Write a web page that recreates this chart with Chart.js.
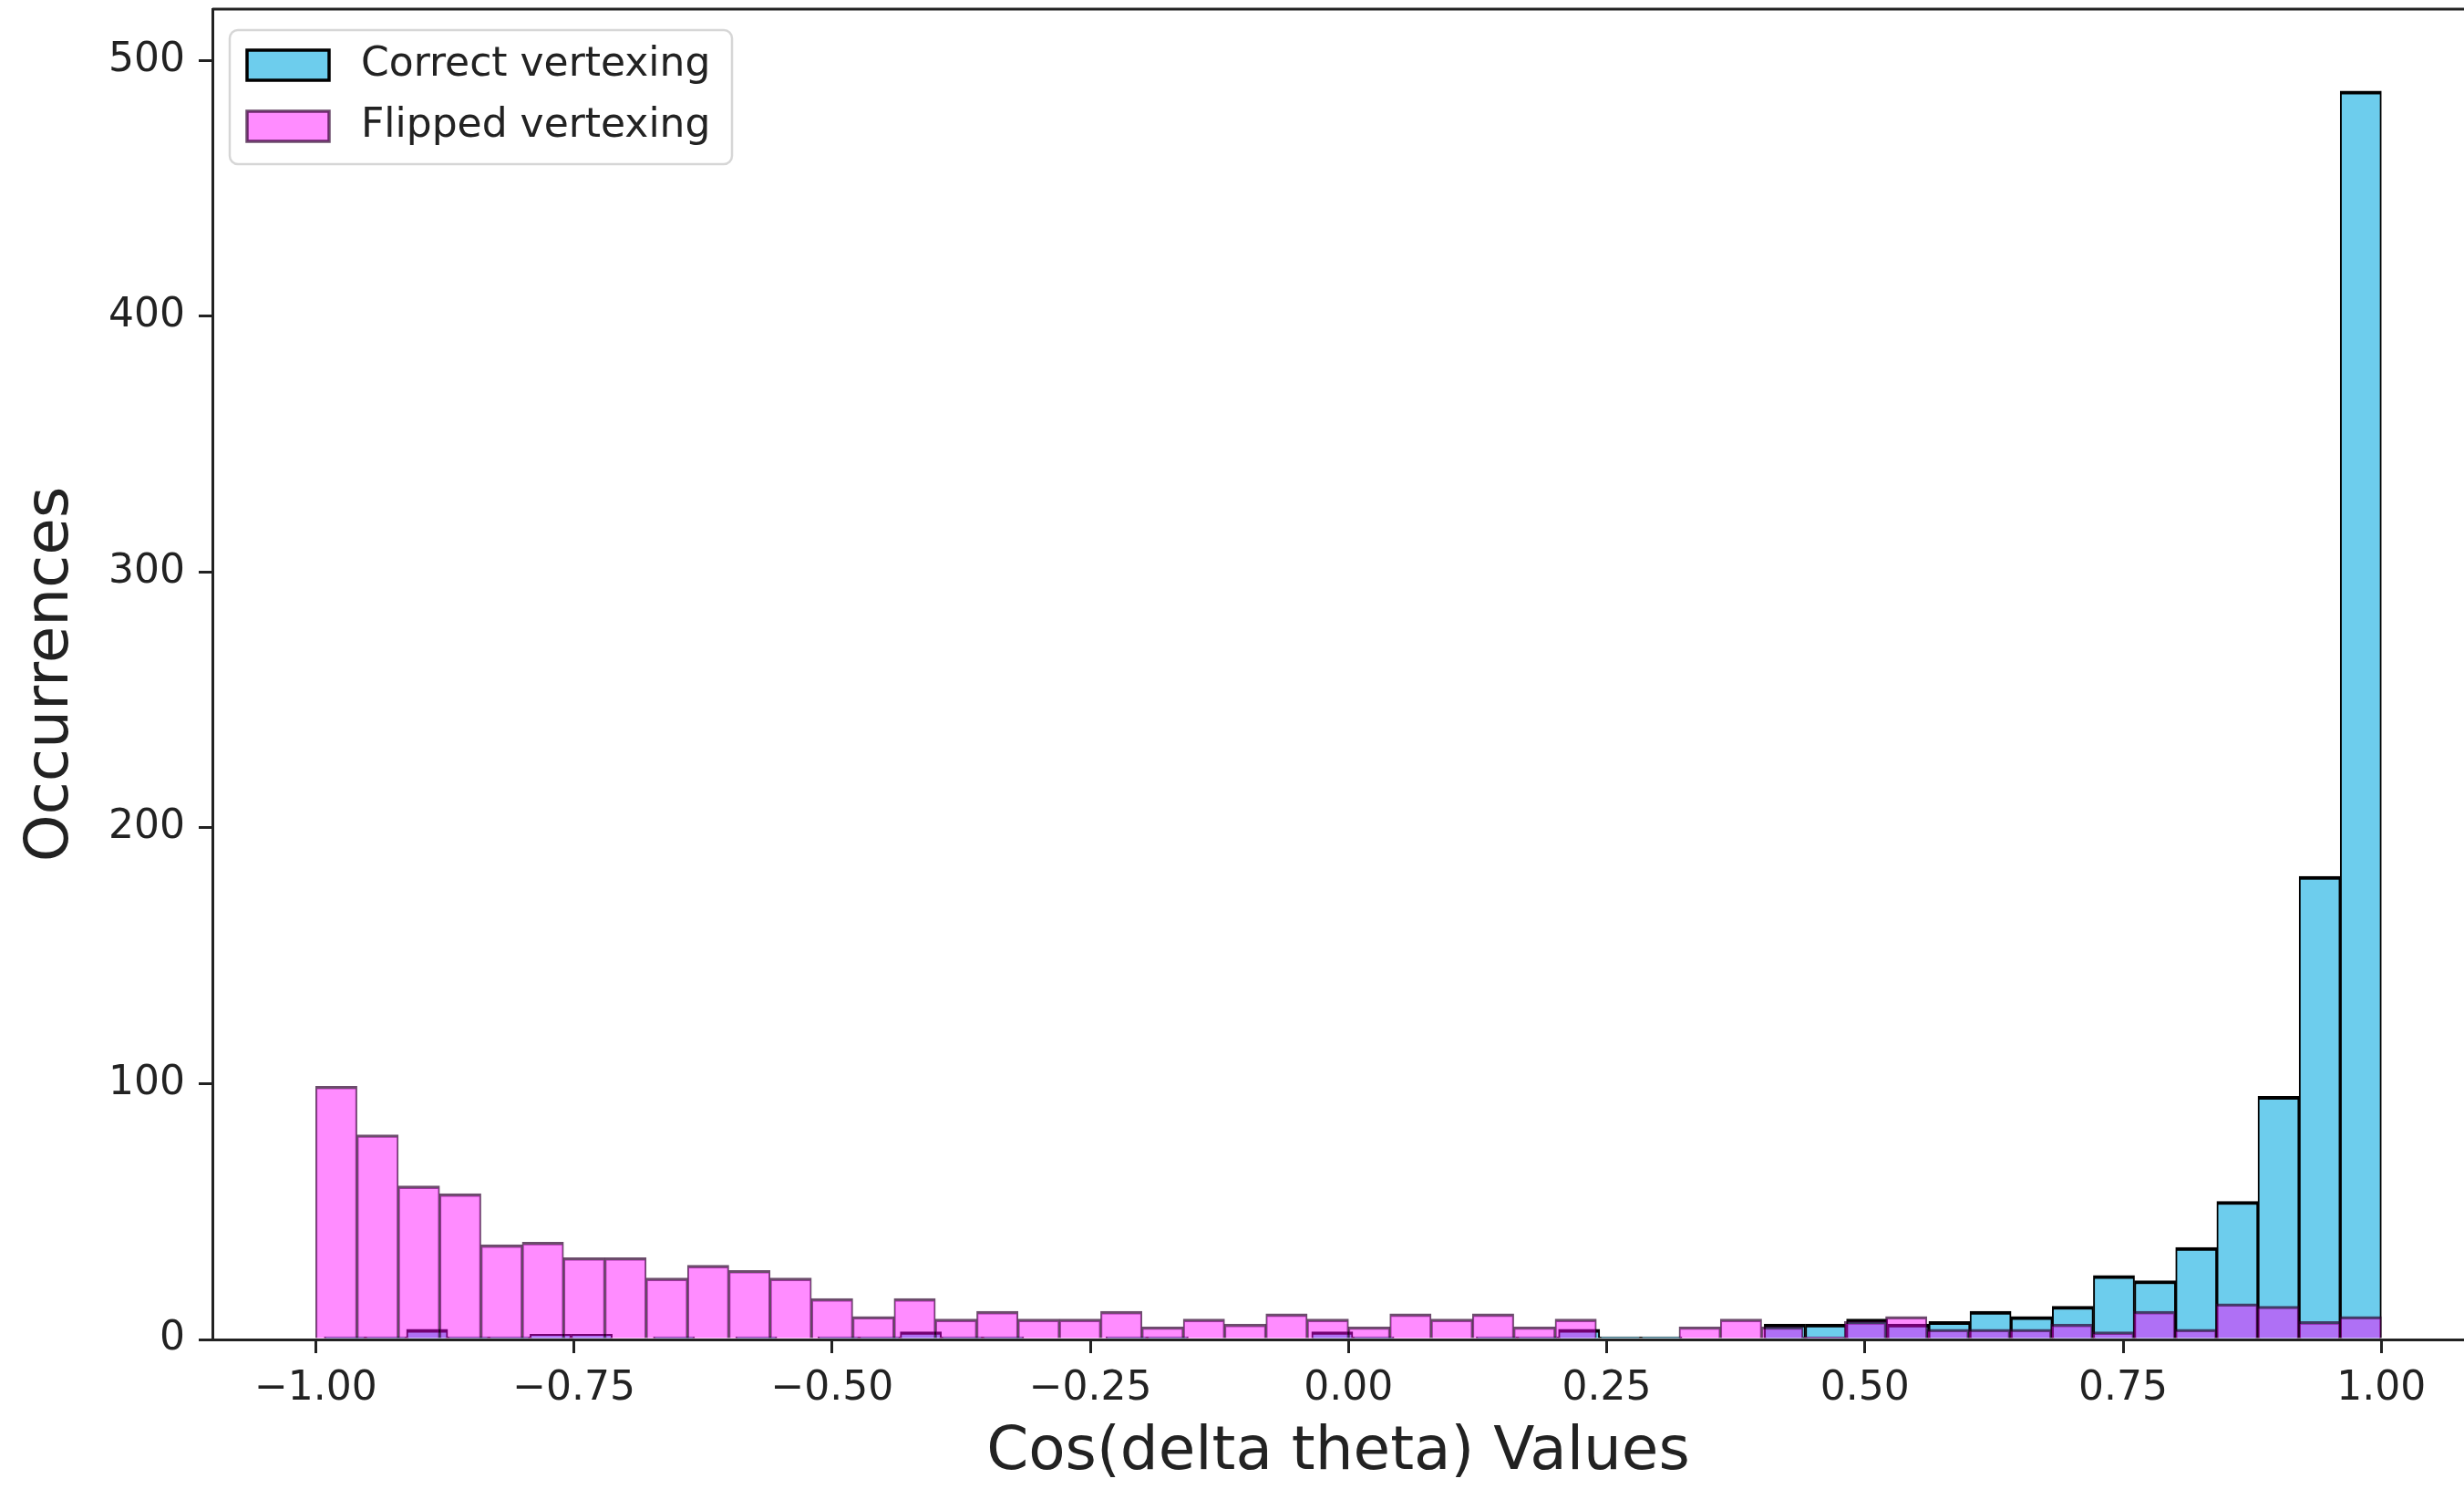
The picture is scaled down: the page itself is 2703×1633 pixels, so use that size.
<!DOCTYPE html>
<html>
<head>
<meta charset="utf-8">
<title>Cos(delta theta) Values</title>
<script src="https://cdn.jsdelivr.net/npm/chart.js@4.4.1/dist/chart.umd.min.js"></script>
<style>
  html, body { margin: 0; padding: 0; background: #fff; overflow: hidden; }
  #wrap { width: 2703px; height: 1633px; position: relative; }
</style>
</head>
<body>
<div id="wrap"><canvas id="histCanvas"></canvas></div>
<script>
// two 50-bin histograms of cos(delta theta)
const correctLabel = 'Correct vertexing';
const flippedLabel = 'Flipped vertexing';

// bin ranges (min/max of each sample)
const correctRange = [-0.9917, 1.0];
const flippedRange = [-1.0, 1.0];

const correctCounts = [
  1, 1, 4, 1, 1, 2, 2, 0, 1, 0,
  1, 0, 1, 1, 3, 1, 1, 0, 0, 1,
  1, 0, 0, 0, 3, 1, 0, 0, 1, 1,
  4, 1, 1, 0, 0, 6, 6, 8, 6, 7,
  11, 9, 13, 25, 23, 36, 54, 95, 181, 488
];
const flippedCounts = [
  99, 80, 60, 57, 37, 38, 32, 32, 24, 29,
  27, 24, 16, 9, 16, 8, 11, 8, 8, 11,
  5, 8, 6, 10, 8, 5, 10, 8, 10, 5,
  8, 0, 0, 5, 8, 5, 1, 7, 9, 4,
  4, 4, 6, 3, 11, 4, 14, 13, 7, 9
];

const xTicks = [-1.0, -0.75, -0.5, -0.25, 0.0, 0.25, 0.5, 0.75, 1.0];
const yTicks = [0, 100, 200, 300, 400, 500];

const xLimits = { min: -1.1, max: 1.08 };
const yLimits = { min: 0, max: 520 };

function binCenters(range, n) {
  const w = (range[1] - range[0]) / n;
  return Array.from({ length: n }, (_, i) => range[0] + (i + 0.5) * w);
}

function toPoints(range, counts) {
  const centers = binCenters(range, counts.length);
  return counts.map((c, i) => ({ x: centers[i], y: c }));
}

function fmtTick(v) {
  const s = Math.abs(v).toFixed(2);
  return v < 0 ? '\u2212' + s : s;
}

const INK = '#222';

// matplotlib-style top spine
const topSpine = {
  id: 'topSpine',
  afterDatasetsDraw(chart) {
    const { ctx, chartArea: a } = chart;
    ctx.save();
    ctx.strokeStyle = INK;
    ctx.lineWidth = 3;
    ctx.beginPath();
    ctx.moveTo(a.left, a.top);
    ctx.lineTo(a.right, a.top);
    ctx.stroke();
    ctx.restore();
  }
};

// legend box in the upper-left corner of the plot
const insideLegend = {
  id: 'insideLegend',
  afterDraw(chart) {
    const { ctx, chartArea } = chart;
    const x0 = chartArea.left + 19;
    const y0 = chartArea.top + 23;
    ctx.save();
    ctx.beginPath();
    ctx.roundRect(x0, y0, 551, 147, 9);
    ctx.fillStyle = 'rgba(255,255,255,0.8)';
    ctx.fill();
    ctx.lineWidth = 2.5;
    ctx.strokeStyle = 'rgba(204,204,204,0.8)';
    ctx.stroke();

    ctx.font = "44px 'DejaVu Sans'";
    ctx.textBaseline = 'middle';
    chart.data.datasets.forEach((ds, i) => {
      const cy = y0 + 38.5 + i * 67;
      const hx = x0 + 19, hw = 90, hh = 33;
      ctx.fillStyle = ds.backgroundColor;
      ctx.fillRect(hx, cy - hh / 2, hw, hh);
      ctx.lineWidth = 3.5;
      ctx.strokeStyle = ds.borderColor;
      ctx.strokeRect(hx, cy - hh / 2, hw, hh);
      ctx.fillStyle = INK;
      ctx.fillText(ds.label, x0 + 144, cy);
    });
    ctx.restore();
  }
};

Chart.defaults.font.family = "'DejaVu Sans', sans-serif";
Chart.defaults.color = INK;

const tickGrid = {
  offset: false,
  drawOnChartArea: false,
  drawTicks: true,
  tickLength: 15,
  tickWidth: 3,
  tickColor: INK,
  lineWidth: 3,
  color: INK
};

new Chart(document.getElementById('histCanvas'), {
  type: 'bar',
  data: {
    datasets: [
      {
        label: correctLabel,
        data: toPoints(correctRange, correctCounts),
        xAxisID: 'xCorrect',
        backgroundColor: '#6DCDED',
        borderColor: '#000',
        borderWidth: { top: 4, left: 2, right: 2, bottom: 0 },
        categoryPercentage: 1,
        barPercentage: 1,
        grouped: false,
        order: 1
      },
      {
        label: flippedLabel,
        data: toPoints(flippedRange, flippedCounts),
        xAxisID: 'x',
        backgroundColor: 'rgba(255,0,255,0.45)',
        borderColor: 'rgba(45,0,45,0.7)',
        borderWidth: { top: 3, left: 1.5, right: 1.5, bottom: 0 },
        categoryPercentage: 1,
        barPercentage: 1,
        grouped: false,
        order: 0
      }
    ]
  },
  options: {
    responsive: true,
    maintainAspectRatio: false,
    animation: false,
    events: [],
    layout: { padding: { top: 10, left: 0, right: 0, bottom: 0 } },
    plugins: {
      legend: { display: false },
      tooltip: { enabled: false }
    },
    scales: {
      x: {
        type: 'linear',
        position: 'bottom',
        offset: false,
        min: xLimits.min,
        max: xLimits.max,
        z: 1,
        afterBuildTicks: (s) => { s.ticks = xTicks.map((v) => ({ value: v })); },
        afterFit: (s) => { s.height = 164; s.paddingLeft = 0; s.paddingRight = 0; },
        ticks: {
          font: { size: 44 },
          padding: 13,
          maxRotation: 0,
          autoSkip: false,
          callback: (v) => fmtTick(v)
        },
        grid: tickGrid,
        border: { display: true, color: INK, width: 3 },
        title: {
          display: true,
          text: 'Cos(delta theta) Values',
          font: { size: 66 },
          padding: { top: 0, bottom: 0 }
        }
      },
      xCorrect: {
        type: 'linear',
        position: 'bottom',
        display: false,
        offset: false,
        grid: { offset: false },
        min: xLimits.min,
        max: xLimits.max
      },
      y: {
        min: yLimits.min,
        max: yLimits.max,
        z: 1,
        afterBuildTicks: (s) => { s.ticks = yTicks.map((v) => ({ value: v })); },
        afterFit: (s) => { s.width = 233; s.paddingTop = 0; s.paddingBottom = 0; },
        ticks: {
          font: { size: 44 },
          padding: 15,
          callback: (v) => String(v)
        },
        grid: tickGrid,
        border: { display: true, color: INK, width: 3 },
        title: {
          display: true,
          text: 'Occurrences',
          font: { size: 66 },
          padding: { top: 17, bottom: 0 }
        }
      }
    }
  },
  plugins: [topSpine, insideLegend]
});
</script>
</body>
</html>
